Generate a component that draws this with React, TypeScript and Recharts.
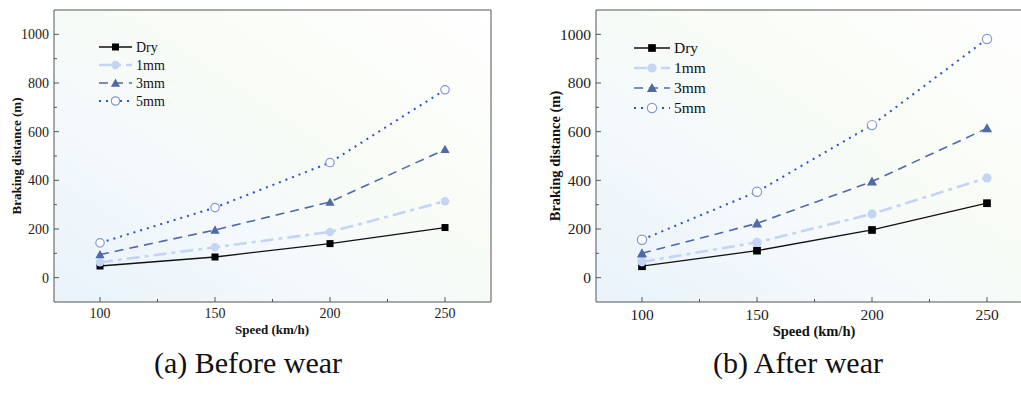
import React from "react";
import { LineChart, Line, XAxis, YAxis, ReferenceArea, Legend, Label } from "recharts";

// speed on the x axis (km/h)
const speeds = [100, 150, 200, 250];

// braking distance (m), before wear
const beforeDry = [48, 85, 140, 206];
const before1mm = [63, 125, 188, 314];
const before3mm = [95, 196, 311, 527];
const before5mm = [143, 288, 473, 772];

// braking distance (m), after wear
const afterDry = [47, 111, 196, 306];
const after1mm = [65, 145, 262, 410];
const after3mm = [100, 223, 395, 614];
const after5mm = [156, 353, 627, 981];

const seriesNames = ["Dry", "1mm", "3mm", "5mm"];
const xTicks = [100, 125, 150, 175, 200, 225, 250];
const xLabelTicks = [100, 150, 200, 250];
const yTicks = [0, 100, 200, 300, 400, 500, 600, 700, 800, 900, 1000];
const yLabelTicks = [0, 200, 400, 600, 800, 1000];

const SERIF = "Liberation Serif, Times New Roman, Times, serif";
const AXIS = "#555";

const STYLES: Record<string, any> = {
  Dry: { stroke: "#111", width: 1.3, dash: undefined, marker: "square", fill: "#000" },
  "1mm": { stroke: "#c3d5f3", width: 2.6, dash: "13 5 4 5", marker: "circle", fill: "#c3d5f3" },
  "3mm": { stroke: "#4e6aa8", width: 1.6, dash: "9 6", marker: "triangle", fill: "#4e6aa8" },
  "5mm": { stroke: "#2d50c8", width: 2, dash: "2 5", marker: "open", fill: "#8396d8" },
};

function Marker({ kind, cx, cy, color, s }: any) {
  if (cx == null || cy == null) return null;
  if (kind === "square") return <rect x={cx - 3.5 * s} y={cy - 3.5 * s} width={7 * s} height={7 * s} fill={color} />;
  if (kind === "circle") return <circle cx={cx} cy={cy} r={4.2 * s} fill={color} />;
  if (kind === "triangle") {
    const r = 4.6 * s;
    return <polygon points={`${cx},${cy - r} ${cx + r},${cy + r * 0.8} ${cx - r},${cy + r * 0.8}`} fill={color} />;
  }
  return <circle cx={cx} cy={cy} r={4.2 * s} fill="#fff" stroke={color} strokeWidth={1.2} />;
}

function buildRows(cols: number[][]) {
  return speeds.map((s, i) => {
    const row: any = { speed: s };
    seriesNames.forEach((n, j) => (row[n] = cols[j][i]));
    return row;
  });
}

function Panel({ id, left, cols, fs, s, legend, yLabel, xLabelY, caption, captionX }: any) {
  const data = buildRows(cols);
  const txt = { fontFamily: SERIF };

  const YTick = ({ x, y, payload }: any) => {
    const v = payload.value;
    const major = yLabelTicks.includes(v);
    const ax = x + 5;
    return (
      <g>
        <line x1={ax} x2={ax + (major ? 5 : 3)} y1={y} y2={y} stroke={AXIS} />
        {major && (
          <text x={x} y={y} dy={fs * 0.35} textAnchor="end" fontSize={fs} style={txt} fill="#222">
            {v}
          </text>
        )}
      </g>
    );
  };

  const XTick = ({ x, y, payload }: any) => {
    const v = payload.value;
    const major = xLabelTicks.includes(v);
    return (
      <g>
        <line x1={x} x2={x} y1={y} y2={y - (major ? 5 : 3)} stroke={AXIS} />
        {major && (
          <text x={x} y={y + fs + 2} textAnchor="middle" fontSize={fs} style={txt} fill="#222">
            {v}
          </text>
        )}
      </g>
    );
  };

  const renderLegend = () => (
    <svg width={110} height={4 * legend.gap + 4} style={{ display: "block", overflow: "visible" }}>
      {seriesNames.map((n, i) => {
        const st = STYLES[n];
        const y = 10 + i * legend.gap;
        return (
          <g key={n}>
            <line
              x1={0}
              x2={legend.len}
              y1={y}
              y2={y}
              stroke={st.stroke}
              strokeWidth={st.width}
              strokeDasharray={st.dash}
            />
            <Marker kind={st.marker} cx={legend.len / 2} cy={y} color={st.fill} s={s} />
            <text x={legend.len + 4} y={y + legend.fs * 0.35} fontSize={legend.fs} style={txt} fill="#111">
              {n}
            </text>
          </g>
        );
      })}
    </svg>
  );

  return (
    <div style={{ position: "absolute", left, top: 0 }}>
      <LineChart width={500} height={345} data={data} margin={{ top: 10, right: 9, bottom: 0, left: 0 }}>
        <defs>
          <linearGradient id={`bg-${id}`} x1="0" y1="1" x2="1" y2="0">
            <stop offset="0%" stopColor="#e9f3fa" />
            <stop offset="35%" stopColor="#f4f9fc" />
            <stop offset="60%" stopColor="#f8fcf5" />
            <stop offset="100%" stopColor="#ffffff" />
          </linearGradient>
        </defs>
        <XAxis
          dataKey="speed"
          type="number"
          domain={[80, 270]}
          ticks={xTicks}
          interval={0}
          allowDataOverflow
          axisLine={false}
          tickLine={false}
          tickSize={0}
          tickMargin={0}
          height={43}
          tick={<XTick />}
        >
          <Label
            content={() => (
              <text x={272} y={xLabelY} textAnchor="middle" fontSize={fs - 1} fontWeight="bold" style={txt} fill="#111">
                Speed (km/h)
              </text>
            )}
          />
        </XAxis>
        <YAxis
          type="number"
          domain={[-100, 1100]}
          ticks={yTicks}
          interval={0}
          allowDataOverflow
          axisLine={false}
          tickLine={false}
          tickSize={0}
          tickMargin={5}
          width={54}
          tick={<YTick />}
        >
          <Label
            content={() => (
              <text
                x={yLabel.x}
                y={156}
                transform={`rotate(-90 ${yLabel.x} 156)`}
                textAnchor="middle"
                fontSize={fs - 1}
                fontWeight="bold"
                style={txt}
                fill="#111"
              >
                Braking distance (m)
              </text>
            )}
          />
        </YAxis>
        <ReferenceArea x1={80} x2={270} y1={-100} y2={1100} fill={`url(#bg-${id})`} fillOpacity={1} stroke={AXIS} strokeWidth={1} />
        {seriesNames.map((n) => {
          const st = STYLES[n];
          return (
            <Line
              key={n}
              dataKey={n}
              type="linear"
              stroke={st.stroke}
              strokeWidth={st.width}
              strokeDasharray={st.dash}
              isAnimationActive={false}
              dot={(p: any) => <Marker key={`${n}-${p.index}`} kind={st.marker} cx={p.cx} cy={p.cy} color={st.fill} s={s} />}
              activeDot={false}
            />
          );
        })}
        <Legend
          layout="vertical"
          align="center"
          verticalAlign="middle"
          content={renderLegend}
          wrapperStyle={{ left: legend.x, top: legend.y, width: 120 }}
        />
      </LineChart>
      <div
        style={{
          position: "absolute",
          left: captionX,
          top: 346,
          fontFamily: SERIF,
          fontSize: 30,
          color: "#111",
          whiteSpace: "nowrap",
          transform: "translateX(-50%)",
        }}
      >
        {caption}
      </div>
    </div>
  );
}

export default function App() {
  return (
    <div
      style={{
        position: "absolute",
        left: 0,
        top: 0,
        width: 1021,
        height: 393,
        overflow: "hidden",
        background: "#fff",
      }}
    >
      <Panel
        id="a"
        left={0}
        cols={[beforeDry, before1mm, before3mm, before5mm]}
        fs={14}
        s={1}
        legend={{ x: 99, y: 37, gap: 18, len: 33, fs: 14 }}
        yLabel={{ x: 21 }}
        xLabelY={334}
        caption="(a) Before wear"
        captionX={248}
      />
      <Panel
        id="b"
        left={542}
        cols={[afterDry, after1mm, after3mm, after5mm]}
        fs={15.5}
        s={1.1}
        legend={{ x: 92, y: 38, gap: 20, len: 36, fs: 15.5 }}
        yLabel={{ x: 18 }}
        xLabelY={336}
        caption="(b) After wear"
        captionX={256}
      />
    </div>
  );
}
